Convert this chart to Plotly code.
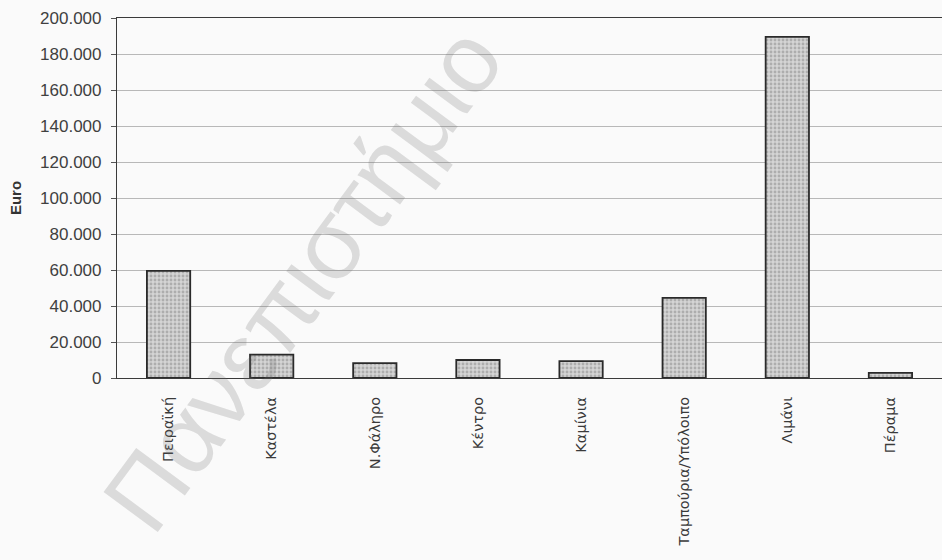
import plotly.graph_objects as go

# Areas and amounts (Euro)
areas = ["Πειραϊκή", "Καστέλα", "Ν.Φάληρο", "Κέντρο", "Καμίνια",
         "Ταμπούρια/Υπόλοιπο", "Λιμάνι", "Πέραμα"]
amounts = [59500, 13000, 8300, 10000, 9400, 44500, 189500, 2800]

y_ticks = [0, 20000, 40000, 60000, 80000, 100000, 120000, 140000,
           160000, 180000, 200000]

fig = go.Figure(
    go.Bar(
        x=areas,
        y=amounts,
        width=0.42,
        marker=dict(
            color="#d0d0d0",
            line=dict(color="#2a2a2a", width=1.8),
            pattern=dict(shape=".", fgcolor="#858585", bgcolor="#d4d4d4",
                         size=4, solidity=0.4),
        ),
        hoverinfo="x+y",
    )
)

fig.update_layout(
    width=942,
    height=560,
    margin=dict(l=117, r=0, t=18, b=182),
    paper_bgcolor="#fafafa",
    plot_bgcolor="#fafafa",
    separators=",.",
    showlegend=False,
    font=dict(family="Liberation Sans, Arial, sans-serif", color="#333333"),
    xaxis=dict(
        showline=True,
        linecolor="#3a3a3a",
        linewidth=1.2,
        mirror=True,
        ticks="",
        tickangle=-90,
        ticklabelstandoff=12,
        tickfont=dict(family="DejaVu Sans, sans-serif", size=14.5, color="#3a3a3a"),
        showgrid=False,
    ),
    yaxis=dict(
        range=[0, 200000],
        tickvals=y_ticks,
        tickformat=",d",
        showline=True,
        linecolor="#3a3a3a",
        linewidth=1.2,
        ticks="outside",
        ticklen=5,
        tickcolor="#555555",
        ticklabelstandoff=6,
        tickfont=dict(size=17, color="#404040"),
        showgrid=True,
        gridcolor="#b8b8b8",
        gridwidth=1,
        zeroline=False,
        title=dict(text="<b>Euro</b>", font=dict(size=15, color="#333333"),
                   standoff=14),
    ),
    annotations=[
        dict(
            text="Πανεπιστήμιο",
            xref="paper", yref="paper",
            x=0.225, y=0.275,
            xanchor="center", yanchor="middle",
            textangle=-53.5,
            showarrow=False,
            font=dict(family="Liberation Sans, Arial, sans-serif", size=98,
                      color="rgba(110,110,110,0.22)"),
        )
    ],
)

fig.write_html("out.html")
